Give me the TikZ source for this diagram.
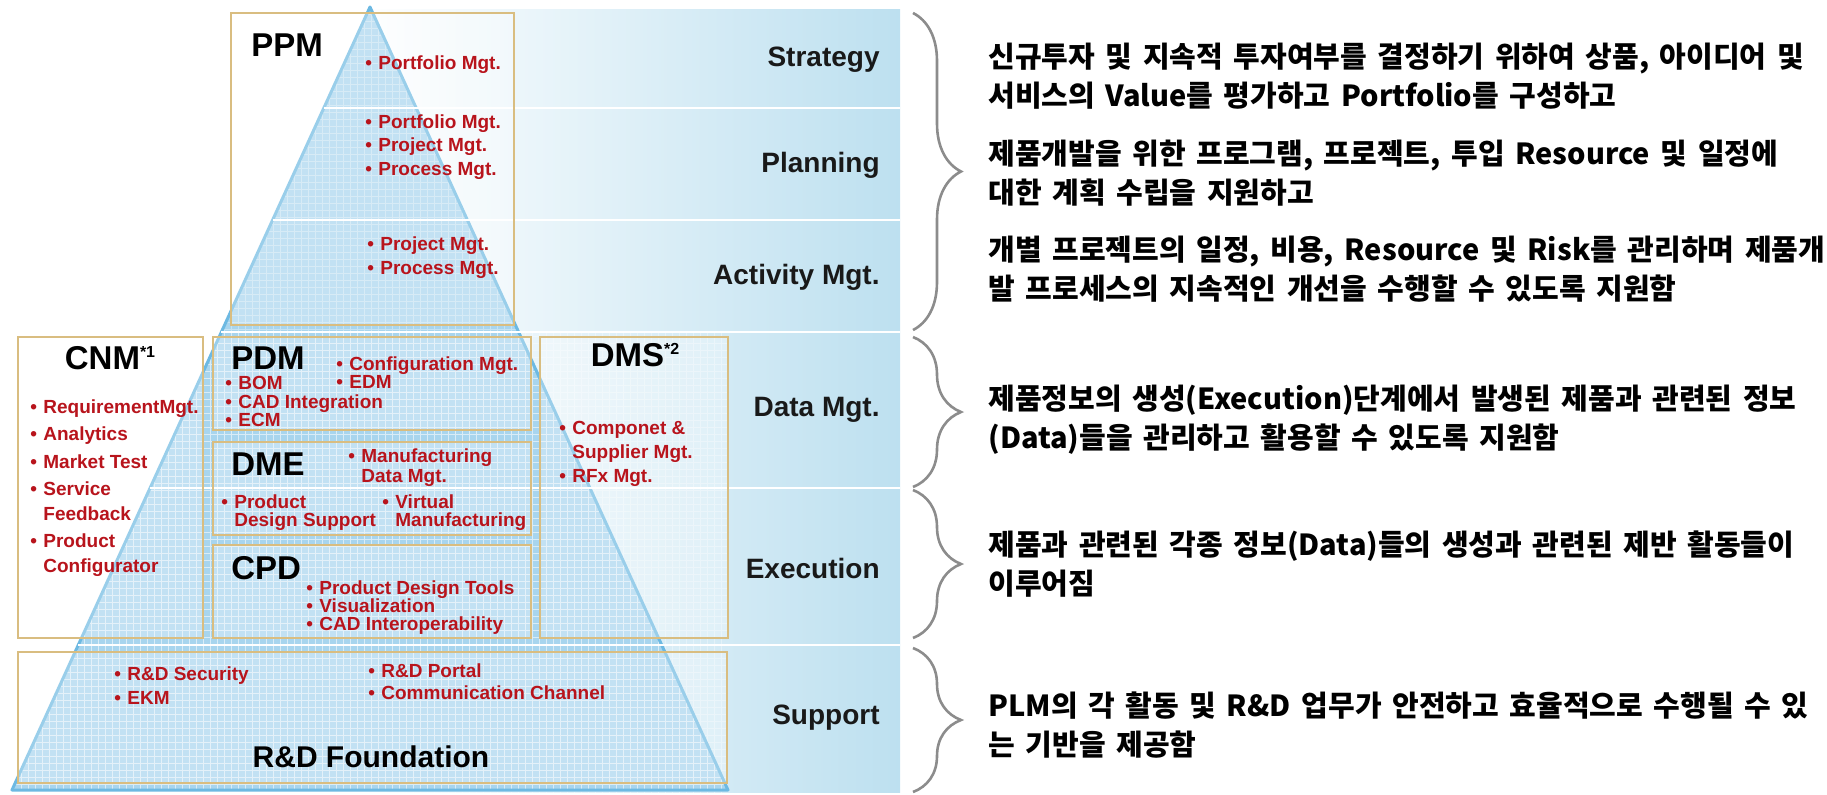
\documentclass[tikz,border=0pt]{standalone}
\usepackage{fontspec}
\setmainfont{Liberation Sans}
\newfontfamily\kor{Noto Sans CJK KR}[WordSpace=1.6]
\usetikzlibrary{calc, decorations.pathreplacing}

\definecolor{bandblue}{HTML}{86C6E3}
\definecolor{pyrblue}{HTML}{A8D5EE}
\definecolor{pyredge}{HTML}{6DB9E2}
\definecolor{boxline}{HTML}{D9BD80}
\definecolor{itemred}{HTML}{B8141C}
\definecolor{bracegray}{HTML}{8C8C8C}

\pgfdeclarehorizontalshading{bandfade}{100bp}{color(0bp)=(white); color(45bp)=(white); color(100bp)=(bandblue)}

\tikzset{
    modbox/.style={draw=boxline, line width=1.2pt, fill=white, fill opacity=0.3},
    modname/.style={font=\fontsize{16.5}{18}\selectfont\bfseries, inner sep=0pt},
    items/.style={font=\fontsize{9.5}{#1}\selectfont\bfseries, text=itemred, align=left, inner sep=0pt, anchor=north west},
    items/.default=11.75,
    layer/.style={font=\fontsize{14}{16}\selectfont\bfseries, text=black!90, inner sep=0pt, anchor=east},
    note/.style={font=\kor\fontsize{14.5}{19.5}\selectfont\bfseries, align=left, inner sep=0pt, anchor=west},
    layerbrace/.style={draw=bracegray, line width=1.3pt, decorate, decoration={brace, amplitude=24pt}},
    mesh/.style={white, opacity=0.35, line width=0.3pt, step=3.5pt}
}
\newcommand{\bul}{\makebox[6.5pt][l]{\textbullet}}
\newcommand{\cont}{\hspace*{6.5pt}}
\newcommand{\footmark}[1]{\raisebox{6pt}{\fontsize{8}{8}\selectfont #1}}

\begin{document}
\begin{tikzpicture}[x=0.5pt, y=-0.5pt]
    \useasboundingbox (0,0) rectangle (1827,794);
    \shade[shading=bandfade] (0,9) rectangle (900,792);

    \coordinate (apex) at (370,7);
    \coordinate (bl) at (12,790);
    \coordinate (br) at (728,790);
    \fill[pyrblue] (apex) -- (bl) -- (br) -- cycle;
    \begin{scope}
        \clip (apex) -- (bl) -- (br) -- cycle;
        \draw[mesh] (0,0) grid (900,794);
    \end{scope}
    \begin{scope}
        \clip (0,332) rectangle (728,792);
        \draw[mesh] (0,0) grid (900,794);
    \end{scope}
    \draw[pyredge, line width=1.5pt, line join=round] (apex) -- (bl) -- (br) -- cycle;

    \foreach \y/\x in {108/324, 220/273, 332/221, 488/150, 645/78}{
        \draw[white, line width=1pt] (\x,\y) -- (900,\y);
    }

    \draw[modbox] (231,13) rectangle (514,325);
    \draw[modbox] (18,337) rectangle (203,638);
    \draw[modbox] (213,337) rectangle (531,430);
    \draw[modbox] (213,442) rectangle (531,535);
    \draw[modbox] (213,545) rectangle (531,638);
    \draw[modbox] (540,337) rectangle (728,638);
    \draw[modbox] (18,652) rectangle (727,783);

    \node[modname, anchor=west] (ppm) at (251,45) {PPM};
    \node[items] (ppmstr) at (365,55) {\bul Portfolio Mgt.};
    \node[items] (ppmpln) at (365,114) {\bul Portfolio Mgt.\\ \bul Project Mgt.\\ \bul Process Mgt.};
    \node[items=12] (ppmact) at (367,236) {\bul Project Mgt.\\ \bul Process Mgt.};

    \node[modname] (cnm) at (110,358) {CNM\footmark{*1}};
    \node[items=12.25] (cnmlist) at (30,399) {\bul RequirementMgt.\\[1.5pt] \bul Analytics\\[1.5pt] \bul Market Test\\[1.5pt]
        \bul Service\\ \cont Feedback\\[1.5pt] \bul Product\\ \cont Configurator};

    \node[modname, anchor=west] (pdm) at (231,358) {PDM};
    \node[items=9] (pdmright) at (336,356) {\bul Configuration Mgt.\\ \bul EDM};
    \node[items=9.25] (pdmleft) at (225,376) {\bul BOM\\ \bul CAD Integration\\ \bul ECM};

    \node[modname, anchor=west] (dme) at (231,464) {DME};
    \node[items=10] (dmemfg) at (348,448) {\bul Manufacturing\\ \cont Data Mgt.};
    \node[items=9] (dmeprod) at (221,494) {\bul Product\\ \cont Design Support};
    \node[items=9] (dmevirt) at (382,494) {\bul Virtual\\ \cont Manufacturing};

    \node[modname, anchor=west] (cpd) at (231,568) {CPD};
    \node[items=9] (cpdlist) at (306,580) {\bul Product Design Tools\\ \bul Visualization\\ \bul CAD Interoperability};

    \node[modname] (dms) at (635,355) {DMS\footmark{*2}};
    \node[items=12] (dmslist) at (559,421) {\bul Componet \&\\ \cont Supplier Mgt.\\ \bul RFx Mgt.};

    \node[items=12] (rdleft) at (114,666) {\bul R\&D Security\\ \bul EKM};
    \node[items=11] (rdright) at (368,663) {\bul R\&D Portal\\ \bul Communication Channel};
    \node[font=\fontsize{15}{17}\selectfont\bfseries, inner sep=0pt] (found) at (371,757) {R\&D Foundation};

    \foreach \name/\y/\txt in {strategy/60/Strategy, planning/165/Planning, activity/277/Activity Mgt.,
        datamgt/410/Data Mgt., execution/568/Execution, support/718/Support}{
        \node[layer] (\name) at (880,\y) {\txt};
    }

    \foreach \t/\b [count=\i] in {13/330, 337/487, 490/638, 648/792}{
        \coordinate (bt\i) at (913,\t);
        \coordinate (bb\i) at (913,\b);
        \draw[layerbrace] (bt\i) -- (bb\i);
    }

    \node[note] (note1) at (988,76) {신규투자 및 지속적 투자여부를 결정하기 위하여 상품, 아이디어 및\\ 서비스의 Value를 평가하고 Portfolio를 구성하고};
    \node[note] (note2) at (988,173) {제품개발을 위한 프로그램, 프로젝트, 투입 Resource 및 일정에\\ 대한 계획 수립을 지원하고};
    \node[note] (note3) at (988,269) {개별 프로젝트의 일정, 비용, Resource 및 Risk를 관리하며 제품개\\ 발 프로세스의 지속적인 개선을 수행할 수 있도록 지원함};
    \node[note] (note4) at (988,420) {제품정보의 생성(Execution)단계에서 발생된 제품과 관련된 정보\\ (Data)들을 관리하고 활용할 수 있도록 지원함};
    \node[note] (note5) at (988,564) {제품과 관련된 각종 정보(Data)들의 생성과 관련된 제반 활동들이\\ 이루어짐};
    \node[note] (note6) at (988,725) {PLM의 각 활동 및 R\&D 업무가 안전하고 효율적으로 수행될 수 있\\ 는 기반을 제공함};
\end{tikzpicture}
\end{document}
